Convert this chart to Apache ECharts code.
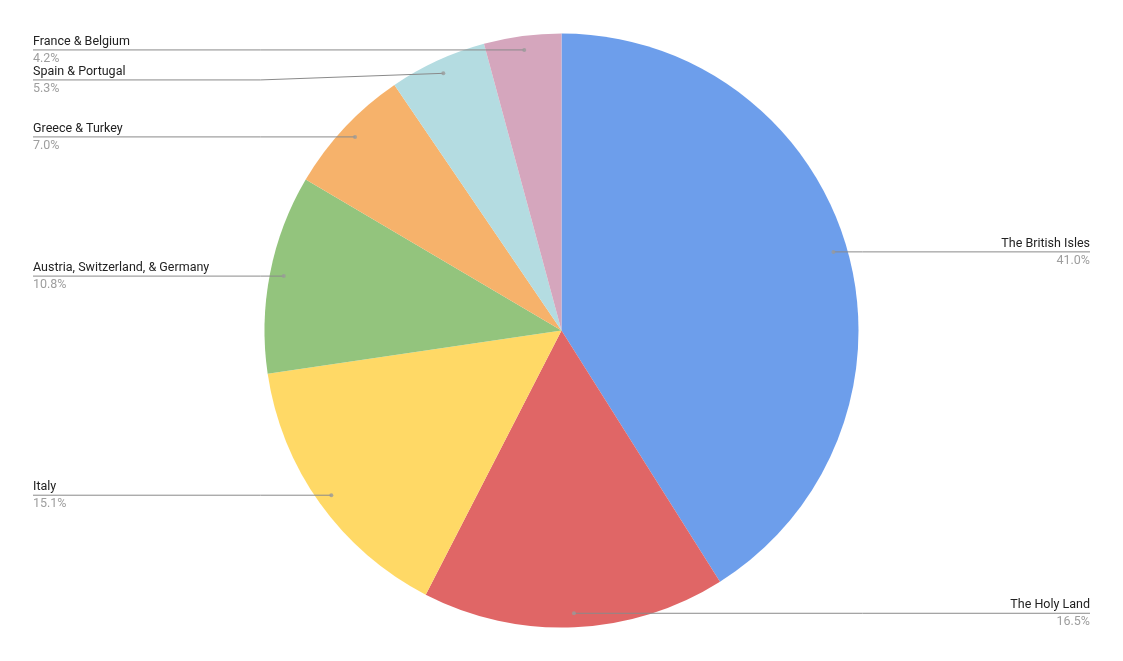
<!DOCTYPE html>
<html>
<head>
<meta charset="utf-8">
<script src="https://cdn.jsdelivr.net/npm/echarts@6/dist/echarts.min.js"></script>
<style>html,body{margin:0;padding:0;background:#fff}#c{width:1123px;height:661px}</style>
</head>
<body>
<div id="c"></div>
<script>
const categories = ['The British Isles', 'The Holy Land', 'Italy', 'Austria, Switzerland, & Germany', 'Greece & Turkey', 'Spain & Portugal', 'France & Belgium'];
const shares = [41.0, 16.5, 15.1, 10.8, 7.0, 5.3, 4.2];
const colors = ['#6d9eeb', '#e06666', '#ffd966', '#93c47d', '#f6b26b', '#b4dce1', '#d5a6bd'];

const chart = echarts.init(document.getElementById('c'));
const total = shares.reduce((a, b) => a + b, 0);
const R = 297;
const dotFrac = 0.953;

let acc = 0;
const dots = shares.map(v => { const mid = acc + v / 2; acc += v; return [dotFrac, mid / total * 100]; });

const pieData = categories.map((n, i) => ({ name: n, value: shares[i], itemStyle: { color: colors[i] } }));
const labelData = categories.map((n, i) => ({ name: n, value: shares[i] }));

chart.setOption({
  animation: false,
  backgroundColor: '#fff',
  polar: { center: ['50%', '50%'], radius: R },
  angleAxis: { type: 'value', min: 0, max: 100, startAngle: 90, clockwise: true, show: false },
  radiusAxis: { type: 'value', min: 0, max: 1, show: false },
  series: [
    {
      type: 'pie',
      center: ['50%', '50%'],
      radius: R,
      startAngle: 90,
      clockwise: true,
      data: pieData,
      label: { show: false },
      labelLine: { show: false },
      itemStyle: { borderWidth: 0 },
      silent: true,
      z: 1
    },
    {
      type: 'pie',
      center: ['50%', '50%'],
      radius: R * dotFrac,
      startAngle: 90,
      clockwise: true,
      data: labelData,
      silent: true,
      itemStyle: { color: 'rgba(0,0,0,0)' },
      z: 3,
      label: {
        show: true,
        position: 'outside',
        alignTo: 'edge',
        edgeDistance: 33,
        minMargin: 0,
        formatter: p => '{n|' + p.name + '}\n{p|' + p.value.toFixed(1) + '%}',
        rich: {
          n: { fontFamily: 'Roboto', fontSize: 12.5, color: '#222222', lineHeight: 17 },
          p: { fontFamily: 'Roboto', fontSize: 12.5, color: '#9e9e9e', lineHeight: 17 }
        }
      },
      labelLine: { show: true, length: 0, length2: 0, lineStyle: { color: '#8a8a8a', width: 1 } },
      labelLayout: function (params) {
        const isLeft = params.labelRect.x < chart.getWidth() / 2;
        const points = params.labelLinePoints;
        if (!points) return {};
        points[2][0] = isLeft ? params.labelRect.x : params.labelRect.x + params.labelRect.width;
        const edgeX = isLeft ? chart.getWidth() / 2 - R - 4 : chart.getWidth() / 2 + R + 4;
        points[1][0] = isLeft ? Math.min(points[0][0], edgeX) : Math.max(points[0][0], edgeX);
        points[1][1] = points[2][1];
        return { labelLinePoints: points };
      }
    },
    {
      type: 'scatter',
      coordinateSystem: 'polar',
      data: dots,
      symbolSize: 4,
      itemStyle: { color: '#9a9a9a' },
      silent: true,
      z: 4
    }
  ]
});
</script>
</body>
</html>
